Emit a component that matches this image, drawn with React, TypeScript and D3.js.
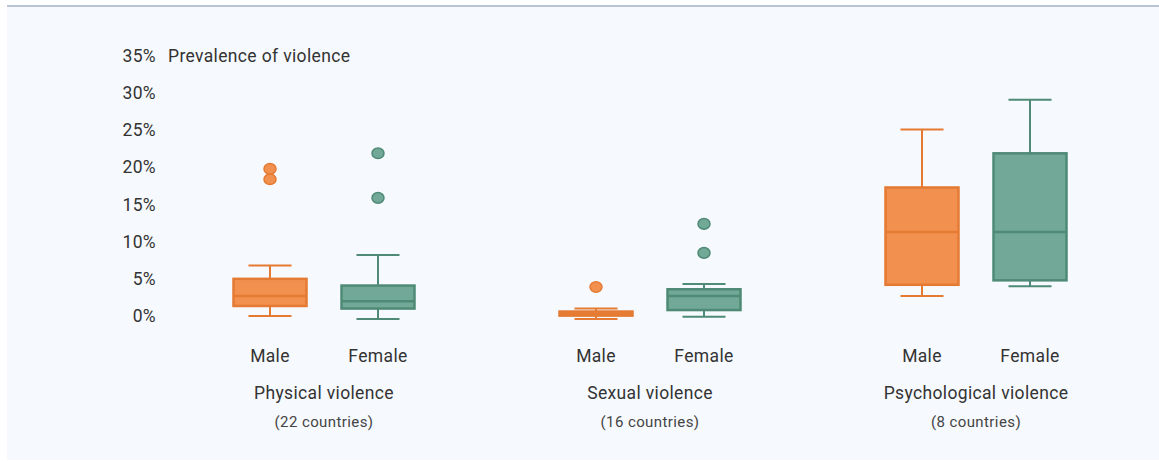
import React from "react";
import * as d3 from "d3";

const groups = ["Physical violence", "Sexual violence", "Psychological violence"];
const groupNotes = ["(22 countries)", "(16 countries)", "(8 countries)"];
const sexes = ["Male", "Female"];
const yTicks = [0, 5, 10, 15, 20, 25, 30, 35];

// [group, sex, whiskerLow, q1, median, q3, whiskerHigh]
const boxStats: [number, number, number, number, number, number, number][] = [
  [0, 0, 0, 1.35, 2.7, 5.0, 6.8],
  [0, 1, -0.4, 1.0, 2.0, 4.1, 8.2],
  [1, 0, -0.4, 0.05, 0.3, 0.6, 1.0],
  [1, 1, -0.1, 0.8, 2.7, 3.6, 4.3],
  [2, 0, 2.7, 4.2, 11.3, 17.3, 25.1],
  [2, 1, 4.0, 4.8, 11.3, 21.9, 29.1],
];

// [group, sex, value]
const outliers: [number, number, number][] = [
  [0, 0, 19.8],
  [0, 0, 18.4],
  [0, 1, 21.9],
  [0, 1, 15.9],
  [1, 0, 3.9],
  [1, 1, 12.4],
  [1, 1, 8.5],
];

const fills = ["#f2914f", "#72a897"];
const strokes = ["#e57a33", "#4e8a75"];
const FONT = "Roboto, 'Noto Sans', sans-serif";

export default function App() {
  const W = 1159, H = 461;
  const y = d3.scaleLinear().domain([0, 35]).range([316, 56]);
  const gx = d3.scaleBand<number>().domain([0, 1, 2]).range([161, 1139]).paddingInner(0).paddingOuter(0);
  const sx = d3.scalePoint<number>().domain([0, 1]).range([-54, 54]);
  const cx = (g: number, s: number) => (gx(g) as number) + gx.bandwidth() / 2 + (sx(s) as number);
  const boxW = 73, capW = 43;
  const txt = { fontSize: 17.5, letterSpacing: 0.35, fill: "#333" } as const;

  return (
    <svg width={W} height={H} style={{ position: "absolute", left: 0, top: 0 }} fontFamily={FONT}>
      <rect x={0} y={0} width={W} height={H} fill="#ffffff" />
      <rect x={7} y={5} width={W - 7} height={455} fill="#f6f9fd" />
      <line x1={7} x2={W} y1={6} y2={6} stroke="#b9c5d5" strokeWidth={2} />

      {yTicks.map((t) => (
        <text key={t} x={156} y={y(t)} textAnchor="end" dominantBaseline="central" {...txt}>
          {t}%
        </text>
      ))}
      <text x={168} y={y(35)} dominantBaseline="central" {...txt}>Prevalence of violence</text>

      {boxStats.map(([g, s, lo, q1, md, q3, hi], i) => {
        const c = cx(g, s);
        return (
          <g key={i} stroke={strokes[s]} strokeWidth={2}>
            <line x1={c} x2={c} y1={y(hi)} y2={y(q3)} />
            <line x1={c} x2={c} y1={y(q1)} y2={y(lo)} />
            <line x1={c - capW / 2} x2={c + capW / 2} y1={y(hi)} y2={y(hi)} />
            <line x1={c - capW / 2} x2={c + capW / 2} y1={y(lo)} y2={y(lo)} />
            <rect x={c - boxW / 2} y={y(q3)} width={boxW} height={Math.max(2, y(q1) - y(q3))} fill={fills[s]} strokeWidth={2.5} />
            <line x1={c - boxW / 2} x2={c + boxW / 2} y1={y(md)} y2={y(md)} strokeWidth={2.5} />
          </g>
        );
      })}

      {outliers.map(([g, s, v], i) => (
        <ellipse key={i} cx={cx(g, s)} cy={y(v)} rx={6} ry={5.3} fill={fills[s]} stroke={strokes[s]} strokeWidth={1.5} />
      ))}

      {groups.map((name, g) => {
        const mid = (gx(g) as number) + gx.bandwidth() / 2;
        return (
          <g key={name}>
            {sexes.map((sx2, s) => (
              <text key={sx2} x={cx(g, s)} y={356} textAnchor="middle" dominantBaseline="central" {...txt}>
                {sx2}
              </text>
            ))}
            <text x={mid} y={393} textAnchor="middle" dominantBaseline="central" {...txt}>{name}</text>
            <text x={mid} y={422} textAnchor="middle" dominantBaseline="central" fontSize={15} letterSpacing={0.4} fill="#444">{groupNotes[g]}</text>
          </g>
        );
      })}
    </svg>
  );
}
